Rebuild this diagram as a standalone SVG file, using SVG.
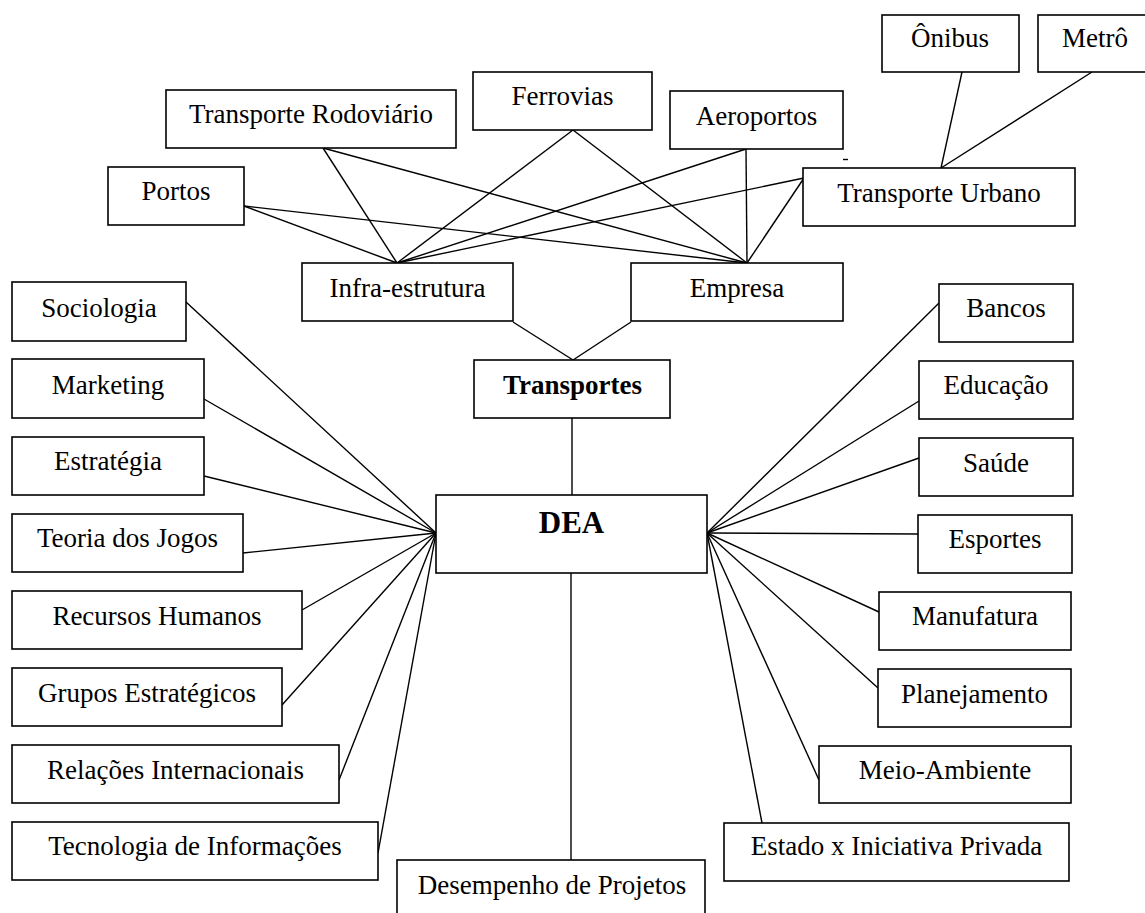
<svg xmlns="http://www.w3.org/2000/svg" width="1145" height="913" viewBox="0 0 1145 913">
  <style>
    .box { fill: #fff; stroke: #000; stroke-width: 1.6; }
    .lbl { font-family: "Liberation Serif", "Times New Roman", serif; font-size: 27px; fill: #000; text-anchor: middle; }
    .bold { font-weight: bold; }
    .edge { stroke: #000; stroke-width: 1.4; fill: none; }
  </style>
  <rect width="1145" height="913" fill="#fff"/>

  <!-- connectors -->
  <g id="connectors" class="edge">
    <!-- transport modes to Infra-estrutura / Empresa -->
    <line x1="323" y1="148" x2="397" y2="263"/>
    <line x1="323" y1="148" x2="747" y2="263"/>
    <line x1="244" y1="206" x2="397" y2="263"/>
    <line x1="244" y1="206" x2="747" y2="263"/>
    <line x1="573" y1="130" x2="397" y2="263"/>
    <line x1="573" y1="130" x2="747" y2="263"/>
    <line x1="746" y1="149" x2="397" y2="263"/>
    <line x1="746" y1="149" x2="747" y2="263"/>
    <line x1="804" y1="178" x2="397" y2="263"/>
    <line x1="804" y1="178" x2="747" y2="263"/>
    <!-- urban transport -->
    <line x1="962" y1="72" x2="941" y2="168"/>
    <line x1="1092" y1="72" x2="941" y2="168"/>
    <!-- to Transportes and DEA -->
    <line x1="513" y1="322" x2="573" y2="360"/>
    <line x1="631" y1="322" x2="573" y2="360"/>
    <line x1="572" y1="418" x2="572" y2="495"/>
    <line x1="571" y1="573" x2="571" y2="860"/>
    <!-- left fan -->
    <line x1="186" y1="302" x2="436" y2="533"/>
    <line x1="204" y1="399" x2="436" y2="533"/>
    <line x1="204" y1="476" x2="436" y2="533"/>
    <line x1="243" y1="553" x2="436" y2="533"/>
    <line x1="302" y1="610" x2="436" y2="533"/>
    <line x1="282" y1="705" x2="436" y2="533"/>
    <line x1="339" y1="780" x2="436" y2="533"/>
    <line x1="378" y1="853" x2="436" y2="533"/>
    <!-- right fan -->
    <line x1="939" y1="303" x2="707" y2="533"/>
    <line x1="919" y1="401" x2="707" y2="533"/>
    <line x1="919" y1="458" x2="707" y2="533"/>
    <line x1="918" y1="534" x2="707" y2="533"/>
    <line x1="879" y1="612" x2="707" y2="533"/>
    <line x1="878" y1="688" x2="707" y2="533"/>
    <line x1="819" y1="780" x2="707" y2="533"/>
    <line x1="762" y1="823" x2="707" y2="533"/>
    <!-- small stray tick -->
    <line x1="843" y1="159.5" x2="848" y2="159.5"/>
  </g>

  <!-- top row -->
  <g id="onibus"><rect class="box" x="882" y="15" width="137" height="57"/><text class="lbl" x="950" y="47">Ônibus</text></g>
  <g id="metro"><rect class="box" x="1038" y="15" width="114" height="57"/><text class="lbl" x="1095" y="47">Metrô</text></g>
  <g id="ferrovias"><rect class="box" x="473" y="72" width="179" height="58"/><text class="lbl" x="562.5" y="105">Ferrovias</text></g>
  <g id="rodoviario"><rect class="box" x="166" y="90" width="290" height="58"/><text class="lbl" x="311" y="123">Transporte Rodoviário</text></g>
  <g id="aeroportos"><rect class="box" x="670" y="91" width="173" height="58"/><text class="lbl" x="756.5" y="125">Aeroportos</text></g>
  <g id="portos"><rect class="box" x="108" y="167" width="136" height="58"/><text class="lbl" x="176" y="200">Portos</text></g>
  <g id="urbano"><rect class="box" x="803" y="168" width="272" height="58"/><text class="lbl" x="939" y="202">Transporte Urbano</text></g>
  <g id="infra"><rect class="box" x="302" y="263" width="211" height="58"/><text class="lbl" x="407.5" y="297">Infra-estrutura</text></g>
  <g id="empresa"><rect class="box" x="631" y="263" width="212" height="58"/><text class="lbl" x="737" y="297">Empresa</text></g>

  <!-- centre -->
  <g id="transportes"><rect class="box" x="474" y="360" width="196" height="58"/><text class="lbl bold" x="572.5" y="394">Transportes</text></g>
  <g id="dea"><rect class="box" x="436" y="495" width="271" height="78"/><text class="lbl bold" x="571.5" y="533" style="font-size:31px">DEA</text></g>
  <g id="desempenho"><rect class="box" x="397" y="860" width="308" height="70"/><text class="lbl" x="552" y="894">Desempenho de Projetos</text></g>

  <!-- left column -->
  <g id="sociologia"><rect class="box" x="12" y="282" width="174" height="59"/><text class="lbl" x="99" y="317">Sociologia</text></g>
  <g id="marketing"><rect class="box" x="12" y="359" width="192" height="59"/><text class="lbl" x="108" y="394">Marketing</text></g>
  <g id="estrategia"><rect class="box" x="12" y="437" width="192" height="58"/><text class="lbl" x="108" y="470">Estratégia</text></g>
  <g id="jogos"><rect class="box" x="12" y="514" width="231" height="58"/><text class="lbl" x="127.5" y="547">Teoria dos Jogos</text></g>
  <g id="rh"><rect class="box" x="12" y="591" width="290" height="58"/><text class="lbl" x="157" y="625">Recursos Humanos</text></g>
  <g id="grupos"><rect class="box" x="12" y="668" width="270" height="58"/><text class="lbl" x="147" y="702">Grupos Estratégicos</text></g>
  <g id="relacoes"><rect class="box" x="12" y="745" width="327" height="58"/><text class="lbl" x="175.5" y="779">Relações Internacionais</text></g>
  <g id="tecnologia"><rect class="box" x="12" y="822" width="366" height="58"/><text class="lbl" x="195" y="855">Tecnologia de Informações</text></g>

  <!-- right column -->
  <g id="bancos"><rect class="box" x="939" y="284" width="134" height="58"/><text class="lbl" x="1006" y="317">Bancos</text></g>
  <g id="educacao"><rect class="box" x="919" y="361" width="154" height="58"/><text class="lbl" x="996" y="394">Educação</text></g>
  <g id="saude"><rect class="box" x="919" y="438" width="154" height="58"/><text class="lbl" x="996" y="472">Saúde</text></g>
  <g id="esportes"><rect class="box" x="918" y="515" width="154" height="58"/><text class="lbl" x="995" y="548">Esportes</text></g>
  <g id="manufatura"><rect class="box" x="879" y="592" width="192" height="58"/><text class="lbl" x="975" y="625">Manufatura</text></g>
  <g id="planejamento"><rect class="box" x="878" y="669" width="193" height="58"/><text class="lbl" x="974.5" y="703">Planejamento</text></g>
  <g id="meio"><rect class="box" x="819" y="746" width="252" height="57"/><text class="lbl" x="945" y="779">Meio-Ambiente</text></g>
  <g id="estado"><rect class="box" x="724" y="823" width="345" height="58"/><text class="lbl" x="896.5" y="855">Estado x Iniciativa Privada</text></g>
</svg>
